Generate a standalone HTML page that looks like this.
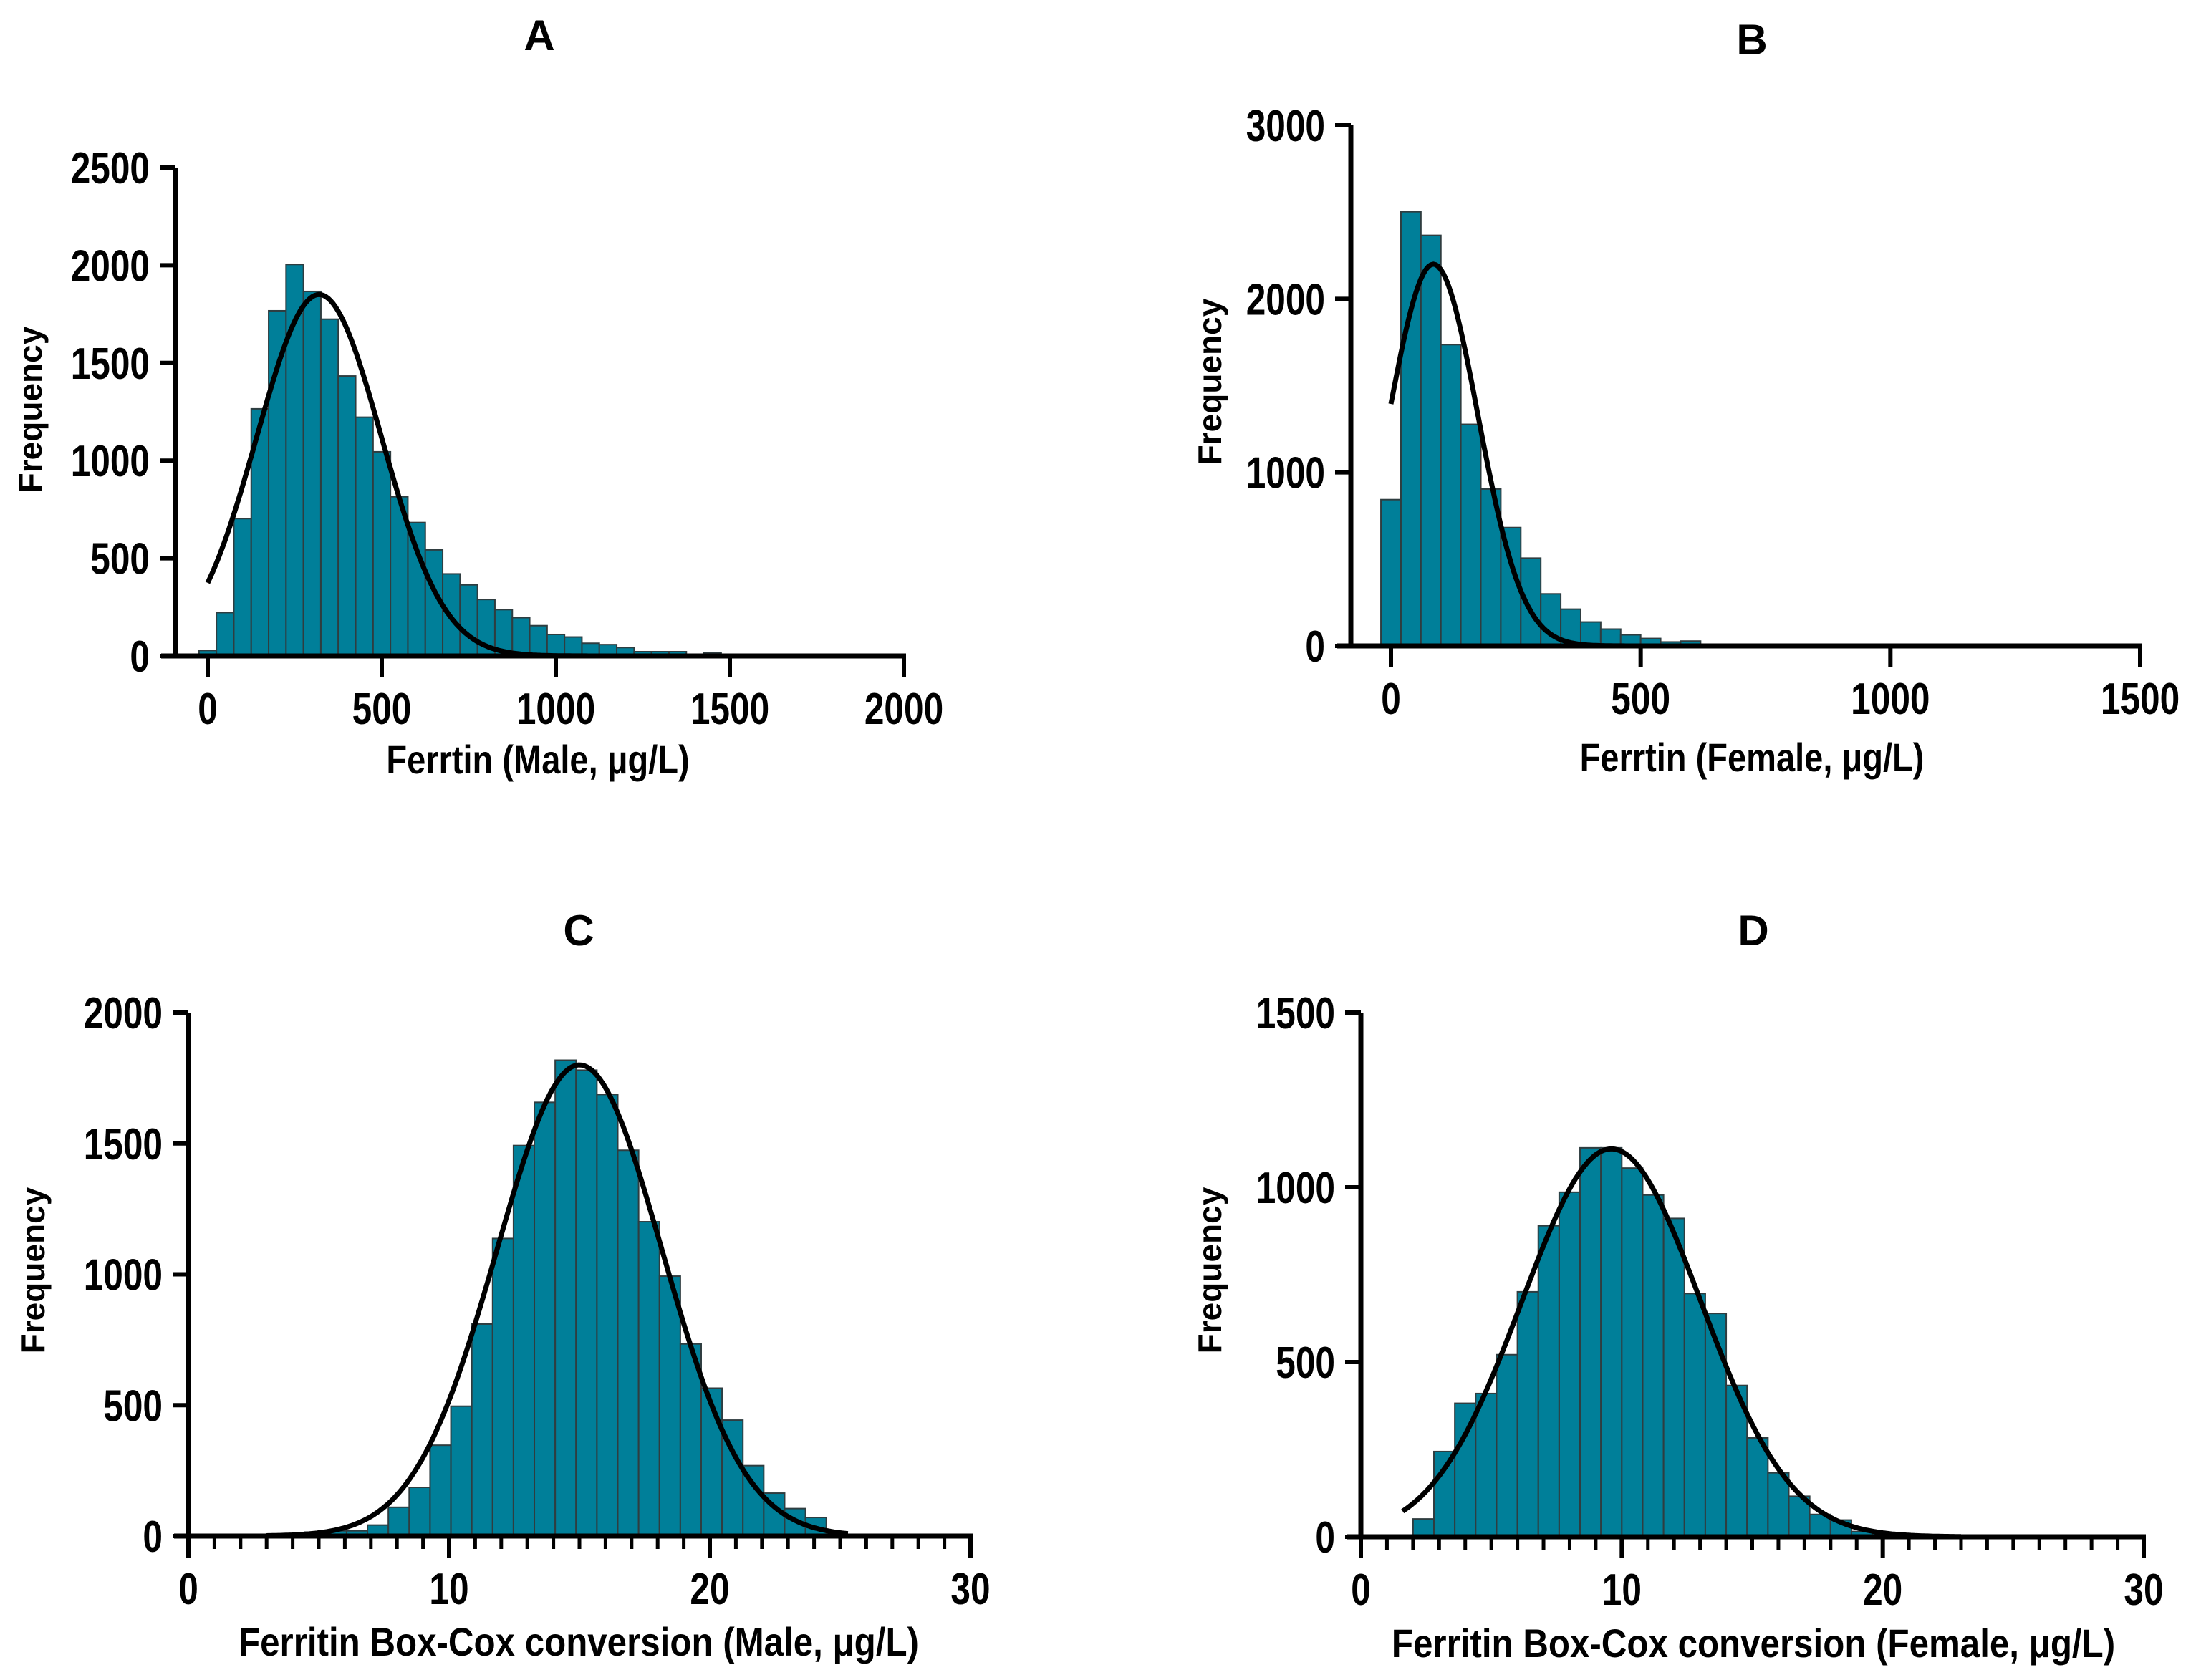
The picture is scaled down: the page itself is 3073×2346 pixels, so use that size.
<!DOCTYPE html>
<html><head><meta charset="utf-8"><style>
html,body{margin:0;padding:0;background:#fff}
svg{display:block}
text{font-family:"Liberation Sans",sans-serif;font-weight:bold;fill:#000}
.freq{font-size:46px}
.tick{font-size:62px}
.xt{font-size:56px}
.ttl{font-size:60px}
</style></head><body>
<svg id="fig" width="3073" height="2346" viewBox="0 0 3073 2346" xmlns="http://www.w3.org/2000/svg"></svg>
<script>
// Panel A: Ferritin male (bins of 50 centred at 0,50,...)
const aCenters=[0,50,100,150,200,250,300,350,400,450,500,550,600,650,700,750,800,850,900,950,1000,1050,1100,1150,1200,1250,1300,1350,1400,1450,1500];
const aCounts=[28,222,703,1265,1767,2004,1866,1724,1433,1222,1045,815,683,543,420,364,289,237,196,155,110,97,65,58,43,22,22,22,9,15,4];
const aFit=[320,179,1850]; // mean, sd, peak
const aYTicks=[0,500,1000,1500,2000,2500];
const aXTicks=[0,500,1000,1500,2000];
// Panel B: Ferritin female (bins of 40)
const bCenters=[0,40,80,120,160,200,240,280,320,360,400,440,480,520,560,600,640];
const bCounts=[843,2502,2366,1736,1277,904,682,506,300,212,138,97,64,43,23,28,3];
const bFit=[85,89,2200];
const bYTicks=[0,1000,2000,3000];
const bXTicks=[0,500,1000,1500];
// Panel C: Box-Cox male (bins of 0.8)
const cCenters=[4.07,4.87,5.67,6.47,7.27,8.07,8.87,9.67,10.47,11.27,12.07,12.87,13.67,14.47,15.27,16.07,16.87,17.67,18.47,19.27,20.07,20.87,21.67,22.47,23.27,24.07,24.87];
const cCounts=[3,15,20,20,42,110,186,347,496,810,1137,1492,1657,1818,1780,1687,1474,1201,993,734,565,443,269,164,105,71,15];
const cFit=[15.0,3.17,1800];
const cYTicks=[0,500,1000,1500,2000];
const cXTicks=[0,10,20,30];
// Panel D: Box-Cox female (bins of 0.8)
const dCenters=[2.4,3.2,4.0,4.8,5.6,6.4,7.2,8.0,8.8,9.6,10.4,11.2,12.0,12.8,13.6,14.4,15.2,16.0,16.8,17.6,18.4,19.2,20.0,20.8];
const dCounts=[51,244,382,410,521,701,890,986,1113,1113,1055,978,911,696,639,433,283,183,116,64,48,15,10,5];
const dFit=[9.6,3.43,1110];
const dYTicks=[0,500,1000,1500];
const dXTicks=[0,10,20,30];

const NS="http://www.w3.org/2000/svg";
const svg=document.getElementById('fig');
function mk(tag,attrs,parent){const e=document.createElementNS(NS,tag);for(const k in attrs)e.setAttribute(k,attrs[k]);(parent||svg).appendChild(e);return e;}
function ctext(parent,x,y,anchor,cls,sx,str){
  const t=mk('text',{x:0,y:0,'text-anchor':anchor,'class':cls,transform:'translate('+x+','+y+') scale('+sx+',1)'},parent);
  t.textContent=str;return t;
}

function panel(o){
  const g=mk('g',{});
  
  
  const sx=v=>o.x0+(v-o.xmin)/(o.xmax-o.xmin)*(o.x1-o.x0);
  const sy=v=>o.y0-(v-0)/(o.ymax)*(o.y0-o.y1);
  const bw=Math.abs(sx(o.bin)-sx(0));
  o.centers.forEach((c,i)=>{
    const r=mk('rect',{x:sx(c)-bw/2,y:sy(o.counts[i]),width:bw,height:sy(0)-sy(o.counts[i]),fill:'#007f99',stroke:'#2f3d40','stroke-width':2},g);
    
    
  });
  let d='';
  const n=300;
  for(let i=0;i<=n;i++){
    const v=o.cx0+(o.cx1-o.cx0)*i/n;
    const y=o.fit[2]*Math.exp(-0.5*Math.pow((v-o.fit[0])/o.fit[1],2));
    d+=(i?'L':'M')+sx(v).toFixed(1)+' '+sy(y).toFixed(1);
  }
  const p=mk('path',{d:d,fill:'none',stroke:'#000','stroke-width':7},g);
  
  
  const ya=mk('line',{x1:o.ax,y1:o.y0+3,x2:o.ax,y2:o.y1,stroke:'#000','stroke-width':7},g);
  
  
  const xa=mk('line',{x1:o.ax-20,y1:o.y0,x2:o.x1+3,y2:o.y0,stroke:'#000','stroke-width':7},g);
  
  
  o.yt.forEach(v=>{
    mk('line',{x1:o.ax-22,y1:sy(v),x2:o.ax,y2:sy(v),stroke:'#000','stroke-width':6},g);
    const t=ctext(g,o.ax-36,sy(v)+22,'end','tick',0.8,v);
    
    
  });
  o.xt.forEach(v=>{
    mk('line',{x1:sx(v),y1:o.y0,x2:sx(v),y2:o.y0+30,stroke:'#000','stroke-width':6},g);
    const t=ctext(g,sx(v),o.y0+95,'middle','tick',0.8,v);
    
    
  });
  if(o.minor){
    for(let v=o.xmin+1;v<o.xmax;v++){ if(v%10===0)continue;
      mk('line',{x1:sx(v),y1:o.y0,x2:sx(v),y2:o.y0+18,stroke:'#000','stroke-width':5},g);
    }
  }
  const tt=mk('text',{x:o.tx,y:o.ty,'text-anchor':'middle','class':'ttl'},g);
  tt.textContent=o.id;
  
  
  const yl=mk('text',{x:0,y:0,'text-anchor':'middle','class':'freq',transform:'translate('+(o.flx)+','+o.fly+') rotate(-90)'},g);
  yl.textContent='Frequency';
  
  
  const xl=ctext(g,o.xlx,o.xly,'middle','xt',o.xls,o.xlabel);
  
  
}

panel({id:'A',centers:aCenters,counts:aCounts,fit:aFit,yt:aYTicks,xt:aXTicks,bin:50,
  xmin:0,xmax:2000,x0:290,x1:1262,ymax:2500,y0:916,y1:234,ax:245,cx0:0,cx1:2000,
  tx:753,ty:70,flx:58,fly:572,xlx:751,xly:1080,xls:0.84,xlabel:'Ferrtin (Male, μg/L)'});
panel({id:'B',centers:bCenters,counts:bCounts,fit:bFit,yt:bYTicks,xt:bXTicks,bin:40,
  xmin:0,xmax:1500,x0:1942,x1:2988,ymax:3000,y0:902,y1:175,ax:1886,cx0:0,cx1:1500,
  tx:2446,ty:76,flx:1705,fly:533,xlx:2446,xly:1077,xls:0.84,xlabel:'Ferrtin (Female,  μg/L)'});
panel({id:'C',centers:cCenters,counts:cCounts,fit:cFit,yt:cYTicks,xt:cXTicks,bin:0.8,minor:true,
  xmin:0,xmax:30,x0:263,x1:1355,ymax:2000,y0:2145,y1:1414,ax:263,cx0:3,cx1:25.3,
  tx:808,ty:1320,flx:62,fly:1774,xlx:808,xly:2312,xls:0.88,xlabel:'Ferritin Box-Cox conversion (Male, μg/L)'});
panel({id:'D',centers:dCenters,counts:dCounts,fit:dFit,yt:dYTicks,xt:dXTicks,bin:0.8,minor:true,
  xmin:0,xmax:30,x0:1900,x1:2993,ymax:1500,y0:2146,y1:1414,ax:1900,cx0:1.6,cx1:23,
  tx:2448,ty:1320,flx:1705,fly:1774,xlx:2448,xly:2314,xls:0.88,xlabel:'Ferritin Box-Cox conversion (Female,  μg/L)'});
</script>
</body></html>
